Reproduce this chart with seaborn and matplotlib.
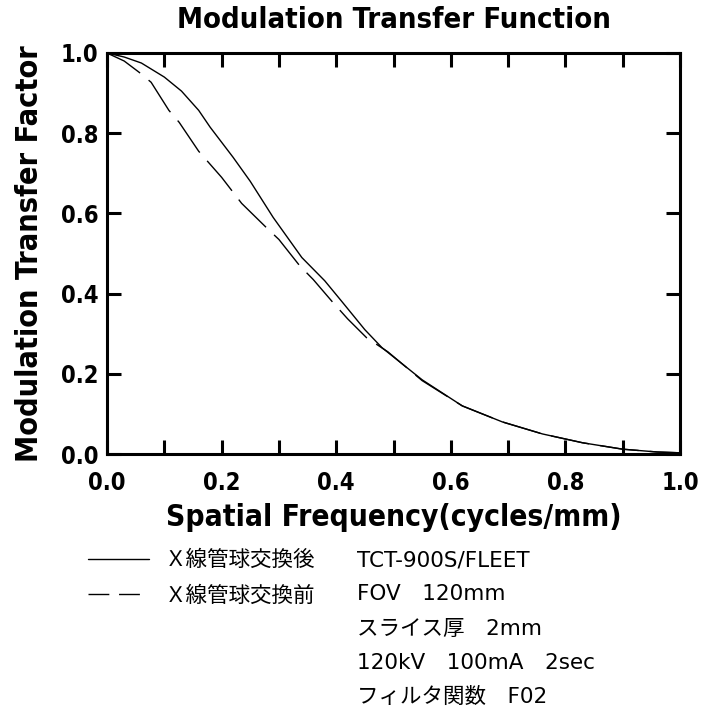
import matplotlib
matplotlib.use('Agg')
import pandas as pd
import seaborn as sns
import matplotlib.pyplot as plt
from matplotlib.lines import Line2D

# MTF
freq_after = [0.0, 0.03, 0.06, 0.10, 0.13, 0.16, 0.18, 0.22, 0.25, 0.29, 0.34, 0.38, 0.41,
              0.45, 0.48, 0.55, 0.62, 0.69, 0.76, 0.83, 0.90, 0.96, 1.0]
mtf_after = [1.0, 0.99, 0.975, 0.94, 0.905, 0.857, 0.815, 0.74, 0.68, 0.59, 0.49, 0.432, 0.38,
             0.31, 0.265, 0.185, 0.12, 0.08, 0.05, 0.028, 0.012, 0.005, 0.003]

freq_before = [0.0, 0.03, 0.056, 0.077, 0.108, 0.126, 0.16, 0.20, 0.235, 0.28, 0.30, 0.336,
               0.36, 0.393, 0.42, 0.453, 0.49, 0.55, 0.62, 0.69, 0.76, 0.83, 0.90, 0.96, 1.0]
mtf_before = [1.0, 0.98, 0.952, 0.927, 0.857, 0.827, 0.755, 0.69, 0.625, 0.562, 0.535, 0.47,
              0.435, 0.38, 0.337, 0.29, 0.255, 0.183, 0.12, 0.08, 0.05, 0.028, 0.012, 0.005, 0.003]

series_names = ['Ｘ線管球交換後', 'Ｘ線管球交換前']
x_ticks = [0.0, 0.2, 0.4, 0.6, 0.8, 1.0]
y_ticks = [0.0, 0.2, 0.4, 0.6, 0.8, 1.0]
conditions = ['TCT-900S/FLEET', 'FOV\u3000120mm', 'スライス厚\u30002mm',
              '120kV\u3000100mA\u30002sec', 'フィルタ関数\u3000F02']

df = pd.concat([
    pd.DataFrame({'freq': freq_after, 'mtf': mtf_after, 'series': series_names[0]}),
    pd.DataFrame({'freq': freq_before, 'mtf': mtf_before, 'series': series_names[1]}),
])

sns.set_style('ticks')
plt.rcParams['font.family'] = ['Noto Sans CJK JP', 'DejaVu Sans']
# scanned original is plain black ink
plt.rcParams.update({'text.color': 'black', 'axes.labelcolor': 'black',
                     'xtick.color': 'black', 'ytick.color': 'black'})

heavy = dict(family='DejaVu Sans', weight='heavy', stretch='condensed')

fig = plt.figure(figsize=(7.02, 7.08), dpi=100)
ax = fig.add_axes([107 / 702, 1 - 454 / 708, 573 / 702, 401 / 708])

sns.lineplot(data=df, x='freq', y='mtf', style='series', color='black',
             dashes={series_names[0]: '', series_names[1]: (28, 8)},
             linewidth=1.0, sort=False, estimator=None, legend=False, ax=ax)

ax.set_xlim(0, 1)
ax.set_ylim(0, 1)
ax.set_xticks(x_ticks)
ax.set_yticks(y_ticks)
ax.set_xticks([0.1, 0.3, 0.5, 0.7, 0.9], minor=True)
ax.set_xticklabels([f'{v:.1f}' for v in x_ticks], **heavy, size=17)
ax.set_yticklabels([f'{v:.1f}' for v in y_ticks], **heavy, size=17)
ax.tick_params(axis='both', which='both', direction='in', length=10, width=2.2,
               top=True, right=True, color='black', labelcolor='black')
ax.tick_params(axis='x', which='major', pad=12)
ax.tick_params(axis='y', which='major', pad=6)
for s in ax.spines.values():
    s.set_linewidth(2.2)
    s.set_color('black')

ax.set_title('Modulation Transfer Function', **heavy, size=21, pad=18, color='black')
ax.set_xlabel('Spatial Frequency(cycles/mm)', **heavy, size=21.5, labelpad=6, color='black')
ax.set_ylabel('Modulation Transfer Factor', **heavy, size=22, labelpad=12, color='black')

handles = [Line2D([], [], color='black', lw=1.0),
           Line2D([], [], color='black', lw=1.0, dashes=(15, 7))]
fig.legend(handles, series_names, loc='upper left', bbox_to_anchor=(69 / 702, 1 - 530 / 708),
           frameon=False, handlelength=2.8, handletextpad=0.75, labelspacing=0.63,
           prop={'family': 'Noto Sans CJK JP', 'size': 15.5}, labelcolor='black')

for i, txt in enumerate(conditions):
    fig.text(357 / 702, 1 - (560 + 34.3 * i) / 708, txt, ha='left', va='center',
             family=['DejaVu Sans', 'Noto Sans CJK JP'], size=15.5, color='black')

plt.savefig('out.png', dpi=100)
